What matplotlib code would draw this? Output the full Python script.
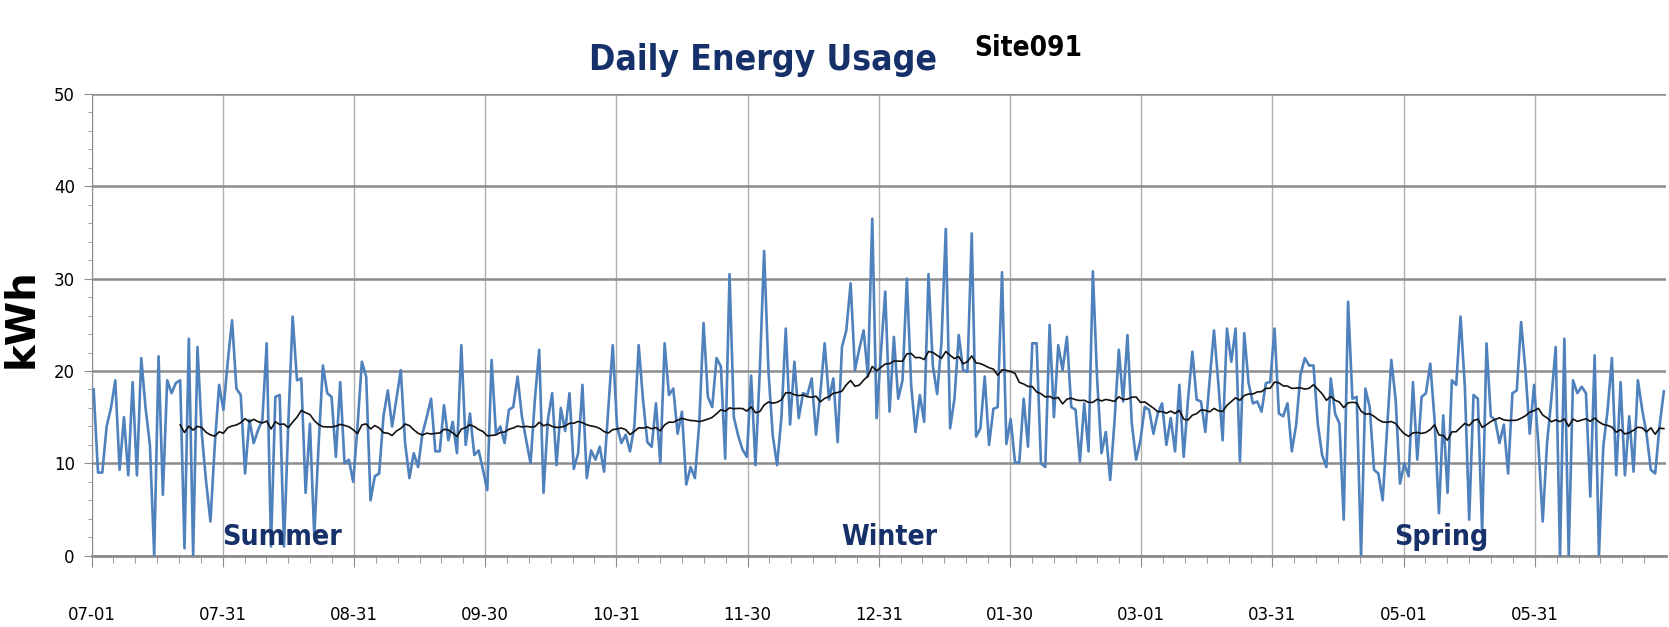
import os
import matplotlib
matplotlib.use('Agg')
import matplotlib.pyplot as plt
import numpy as np
import pandas as pd
from matplotlib import font_manager as fm
from matplotlib.ticker import FixedLocator, MultipleLocator

# Daily energy usage (kWh), one value per day starting 07-01
usage = [
    18, 9, 9, 14, 16, 19, 9.3, 15, 8.7, 18.8,
    8.7, 21.4, 16, 12, 0, 21.6, 6.6, 19, 17.6, 18.7,
    19, 0.8, 23.5, 0, 22.6, 13.2, 8, 3.7, 12, 18.5,
    15.8, 21, 25.5, 18.1, 17.4, 8.9, 14.7, 12.2, 13.6, 14.7,
    23, 1, 17.2, 17.4, 1, 14.3, 25.9, 19, 19.2, 6.8,
    14.3, 2.1, 12, 20.6, 17.6, 17.2, 10.7, 18.8, 10, 10.4,
    8, 14, 21, 19.4, 6, 8.6, 8.9, 15.1, 17.9, 14,
    17, 20.1, 12.2, 8.4, 11.1, 9.6, 13.2, 15, 17, 11.3,
    11.3, 16.3, 12.5, 14.5, 11.1, 22.8, 12, 15.4, 10.9, 11.4,
    9.3, 7.1, 21.2, 13.2, 14, 12.2, 15.8, 16.1, 19.4, 15.1,
    12.5, 10, 16.9, 22.3, 6.8, 14.7, 17.6, 9.8, 16, 13.5,
    17.6, 9.4, 11.1, 18.5, 8.4, 11.4, 10.4, 11.8, 9.1, 16.1,
    22.8, 14, 12.2, 13.1, 11.3, 14, 22.8, 16.9, 12.3, 11.8,
    16.5, 10, 23, 17.4, 18.1, 13.2, 15.6, 7.7, 9.6, 8.4,
    14.3, 25.2, 17.2, 16.1, 21.4, 20.5, 10.5, 30.5, 15, 13,
    11.5, 10.7, 19.5, 9.8, 20, 33, 20, 13, 9.8, 15,
    24.6, 14.2, 21, 14.9, 17.6, 17.4, 19.2, 13.1, 17.6, 23,
    16.9, 19.2, 12.3, 22.6, 24.4, 29.5, 20.1, 22.4, 24.4, 19.4,
    36.5, 14.9, 22, 28.6, 15.6, 23.7, 17, 19, 30, 18.4,
    13.4, 17.4, 14.5, 30.5, 20.6, 17.5, 23.1, 35.4, 13.8, 17,
    23.9, 20.1, 19.9, 34.9, 12.9, 13.8, 19.4, 12, 15.9, 16.1,
    30.7, 12.1, 14.8, 10.1, 10.1, 17, 11.8, 23, 23, 10,
    9.6, 25, 15, 22.8, 20.1, 23.7, 16.1, 15.8, 10.2, 16.5,
    11.3, 30.8, 19, 11.1, 13.4, 8.2, 14.5, 22.3, 16.7, 23.9,
    14.3, 10.4, 12.5, 16.1, 15.8, 13.2, 15.4, 16.5, 12, 14.9,
    11.3, 18.5, 10.7, 16.9, 22.1, 16.9, 16.7, 13.4, 19, 24.4,
    18.7, 12.5, 24.6, 21, 24.6, 10.2, 24.1, 18.7, 16.5, 16.7,
    15.6, 18.7, 18.8, 24.6, 15.4, 15.1, 16.5, 11.3, 14.2, 19.6,
    21.4, 20.6, 20.6, 14.3, 10.9, 9.6, 19.2, 15.4, 14.3, 3.9,
    27.5, 17, 17.2, 0, 18.1, 16.1, 9.3, 8.9, 6, 13.6,
    21.2, 16.9, 7.8, 10, 8.6, 18.8, 10.4, 17.2, 17.6, 20.8,
    14.7, 4.6, 15.2, 6.8, 19, 18.5, 25.9, 18.3, 3.9, 17.4,
    17, 2.4, 23, 15.1, 14.7, 12.2, 14.2, 8.9, 17.6, 17.9,
    25.3, 20.1, 13.2, 18.5, 12, 3.7, 12.2, 17, 22.6, 0,
    23.5, 0, 19, 17.6, 18.3, 17.6, 6.4, 21.7, 0, 11.8,
    15.8, 21.4, 8.7, 18.8, 8.7, 15.1, 9.1, 19, 15.8, 13.2,
    9.3, 8.9, 14, 17.8,
]
tick_labels = ['07-01', '07-31', '08-31', '09-30', '10-31', '11-30',
               '12-31', '01-30', '03-01', '03-31', '05-01', '05-31']
season_names = ['Summer', 'Winter', 'Spring']
season_days = [44, 184.5, 312]
ma_window = 21

NAVY = '#16306a'


def find_font(bold):
    files = [f.fname for f in fm.fontManager.ttflist]
    if bold:
        prefs = ['LiberationSansNarrow-Bold.', 'NotoSans-ExtraCondensedBold.',
                 'DejaVuSansCondensed-Bold.', 'NotoSans-CondensedBold.',
                 'RobotoCondensed-Bold.', 'OpenSans-CondensedBold.']
    else:
        prefs = ['LiberationSansNarrow-Regular.', 'NotoSans-ExtraCondensed.',
                 'DejaVuSansCondensed.', 'NotoSans-Condensed.',
                 'RobotoCondensed-Regular.', 'OpenSans-CondensedRegular.']
    for p in prefs:
        for fn in files:
            if os.path.basename(fn).startswith(p):
                return fn
    for fn in files:
        b = os.path.basename(fn)
        if (('Condensed' in b or 'Narrow' in b) and (('Bold' in b) == bold)
                and 'Semi' not in b and 'Extra' not in b and 'Italic' not in b
                and 'Oblique' not in b and 'Black' not in b and 'Light' not in b):
            return fn
    return None


BOLD_FILE = find_font(True)
REG_FILE = find_font(False)


def fprops(bold, size):
    fn = BOLD_FILE if bold else REG_FILE
    if fn is None:
        return fm.FontProperties(family='DejaVu Sans',
                                 weight='bold' if bold else 'normal', size=size)
    return fm.FontProperties(fname=fn, size=size)


n = len(usage)
x = np.arange(n) + 0.5
ma = pd.Series(usage).rolling(ma_window).mean().to_numpy()

fig = plt.figure(figsize=(16.69, 6.27), dpi=100)
ax = fig.add_axes([91.5 / 1669, 1 - 555.7 / 627, (1666 - 91.5) / 1669, (555.7 - 94) / 627])

ax.plot(x, usage, color='#4f81bd', lw=1.9, zorder=3)
ax.plot(x, ma, color='#111111', lw=1.2, zorder=4)

span = float(n)
ax.set_xlim(0, span)
ax.set_ylim(0, 50)
ax.xaxis.set_major_locator(FixedLocator([k * span / 12 for k in range(12)]))
ax.xaxis.set_minor_locator(FixedLocator([k * span / 72 for k in range(72)]))
ax.set_xticklabels(tick_labels)
ax.yaxis.set_major_locator(MultipleLocator(10))
ax.yaxis.set_minor_locator(MultipleLocator(2))

ax.grid(axis='y', which='major', color='#8c8c8c', lw=1.8, zorder=1)
ax.grid(axis='x', which='major', color='#b0b0b0', lw=1.0, zorder=1)
for s in ['top', 'right']:
    ax.spines[s].set_visible(False)
ax.spines['left'].set_color('#8c8c8c')
ax.spines['bottom'].set_color('#8c8c8c')
ax.spines['bottom'].set_linewidth(2.0)
ax.tick_params(axis='x', which='major', length=8, color='#8c8c8c', pad=28)
ax.tick_params(axis='x', which='minor', length=5, color='#8c8c8c')
ax.tick_params(axis='y', which='major', length=6, color='#8c8c8c', pad=6)
ax.tick_params(axis='y', which='minor', length=3, color='#8c8c8c')

renderer = fig.canvas.get_renderer()


def fit_size(text, bold, target_w, base=20.0):
    t = fig.text(0, 0, text, fontproperties=fprops(bold, base))
    w = t.get_window_extent(renderer).width
    t.remove()
    return base * target_w / max(w, 1e-6)


xs = min(fit_size('07-01', False, 48), 22)
ys = min(fit_size('50', False, 21), 22)
for lab in ax.get_xticklabels():
    lab.set_fontproperties(fprops(False, xs))
for lab in ax.get_yticklabels():
    lab.set_fontproperties(fprops(False, ys))

season_w = [120, 96, 94]
for name, d, w in zip(season_names, season_days, season_w):
    ax.text(d, 1.2, name, ha='center', va='baseline', zorder=5, color=NAVY,
            fontproperties=fprops(True, min(fit_size(name, True, w), 40)))

fig.text(763 / 1669, 1 - 70 / 627, 'Daily Energy Usage', ha='center', va='baseline',
         color=NAVY, fontproperties=fprops(True, min(fit_size('Daily Energy Usage', True, 348), 46)))
fig.text(1028 / 1669, 1 - 56 / 627, 'Site091', ha='center', va='baseline', color='black',
         fontproperties=fprops(True, min(fit_size('Site091', True, 108), 34)))
fig.text(22 / 1669, 1 - 318 / 627, 'kWh', ha='center', va='center', rotation=90,
         fontsize=29, fontweight='bold', family=['DejaVu Sans'], color='black')

fig.savefig('out.png', dpi=100)
